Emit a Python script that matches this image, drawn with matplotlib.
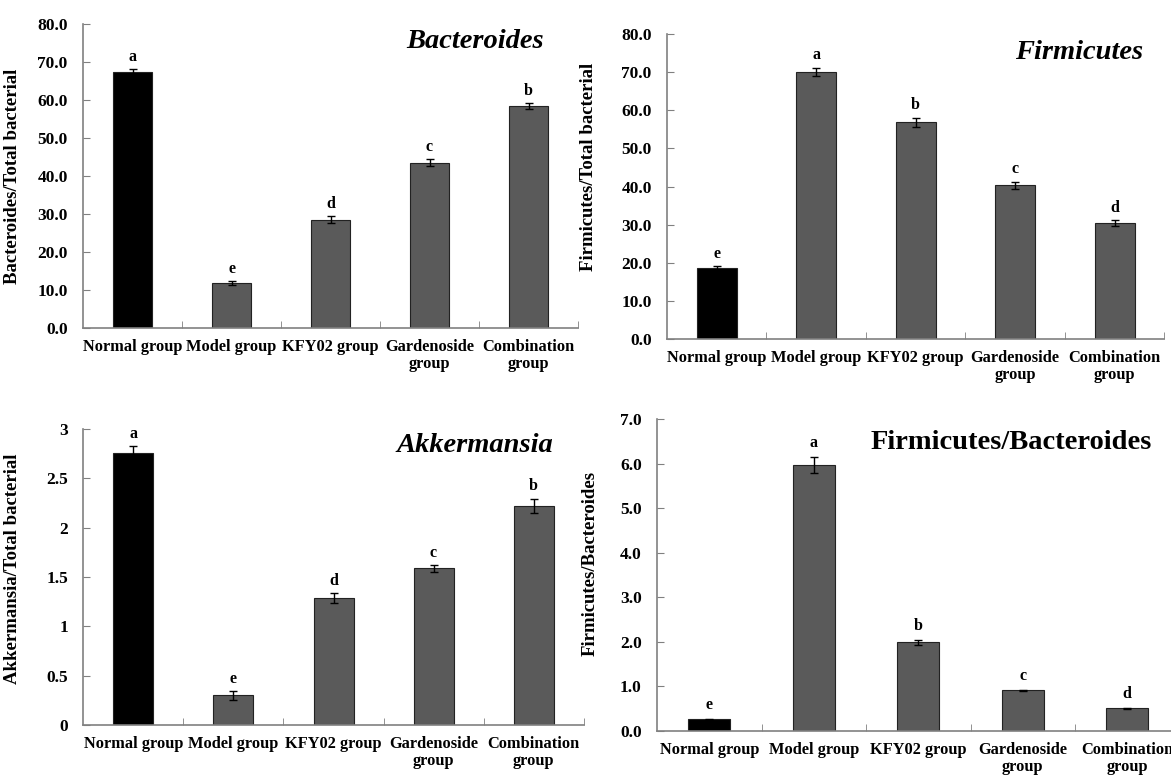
import matplotlib
matplotlib.use('Agg')
from matplotlib import pyplot as plt
from matplotlib.ticker import FormatStrFormatter, FuncFormatter
import numpy as np

plt.rcParams['font.family'] = ['Liberation Serif', 'DejaVu Serif']
plt.rcParams['font.weight'] = 'bold'

# grupos experimentais
grupos = ['Normal group', 'Model group', 'KFY02 group', 'Gardenoside\ngroup', 'Combination\ngroup']

# Bacteroides / total
bacteroides = [67.4, 11.8, 28.5, 43.5, 58.4]
bacteroides_err = [0.7, 0.5, 0.9, 0.9, 0.8]
bacteroides_let = ['a', 'e', 'd', 'c', 'b']

# Firmicutes / total
firmicutes = [18.6, 70.1, 56.9, 40.3, 30.4]
firmicutes_err = [0.6, 1.1, 1.2, 1.0, 0.7]
firmicutes_let = ['e', 'a', 'b', 'c', 'd']

# Akkermansia / total
akkermansia = [2.76, 0.30, 1.29, 1.59, 2.22]
akkermansia_err = [0.07, 0.045, 0.05, 0.035, 0.075]
akkermansia_let = ['a', 'e', 'd', 'c', 'b']

# Firmicutes / Bacteroides
fb = [0.26, 5.97, 1.99, 0.91, 0.51]
fb_err = [0.01, 0.18, 0.05, 0.01, 0.015]
fb_let = ['e', 'a', 'b', 'c', 'd']

cores = ['black', '#5a5a5a', '#5a5a5a', '#5a5a5a', '#5a5a5a']

fig = plt.figure(figsize=(11.71, 7.75), dpi=100)


def painel(pos, valores, erros, letras, ymax, ystep, fmt, titulo, italico,
           ylabel, titulo_xy, ylabel_xy, pad_letra):
    ax = fig.add_axes(pos)
    x = np.arange(len(grupos))
    ax.bar(x, valores, width=0.4, color=cores, edgecolor='#222222', linewidth=0.8)
    ax.errorbar(x, valores, yerr=erros, fmt='none', ecolor='black',
                elinewidth=1, capsize=3, capthick=1)
    for xi, v, e, l in zip(x, valores, erros, letras):
        ax.annotate(l, (xi, v + e), xytext=(0, pad_letra), textcoords='offset points',
                    ha='center', va='bottom', fontsize=11.5, fontweight='bold')
    ax.set_xlim(-0.5, len(grupos) - 0.5)
    ax.set_ylim(0, ymax)
    ax.set_yticks(np.arange(0, ymax + ystep / 2, ystep))
    ax.yaxis.set_major_formatter(fmt)
    ax.set_xticks(x)
    ax.set_xticklabels(grupos, fontsize=11.8, fontweight='bold', linespacing=1.05)
    ax.set_xticks(np.arange(0.5, len(grupos)), minor=True)
    ax.tick_params(axis='x', which='major', length=0, pad=8)
    ax.tick_params(axis='x', which='minor', direction='in', length=5, color='#808080')
    ax.tick_params(axis='y', direction='in', length=5, color='#808080', labelsize=12.5, pad=11)
    for lab in ax.get_yticklabels():
        lab.set_fontweight('bold')
    for s in ['top', 'right']:
        ax.spines[s].set_visible(False)
    for s in ['left', 'bottom']:
        ax.spines[s].set_color('#808080')
        ax.spines[s].set_linewidth(1.2)
    ax.set_ylabel(ylabel, fontsize=13.5, fontweight='bold')
    ax.yaxis.set_label_coords(*ylabel_xy)
    ax.text(titulo_xy[0], titulo_xy[1], titulo, transform=ax.transAxes, ha='right',
            va='center', fontsize=20.5, fontweight='bold',
            style='italic' if italico else 'normal')
    return ax


fmt1 = FormatStrFormatter('%.1f')
fmtg = FuncFormatter(lambda v, p: '%g' % v)

painel([0.0709, 0.5768, 0.4227, 0.3923], bacteroides, bacteroides_err, bacteroides_let,
       80, 10, fmt1, 'Bacteroides', True, 'Bacteroides/Total bacterial',
       (0.931, 0.941), (-0.125, 0.5), 3)

painel([0.5696, 0.5626, 0.4248, 0.3935], firmicutes, firmicutes_err, firmicutes_let,
       80, 10, fmt1, 'Firmicutes', True, 'Firmicutes/Total bacterial',
       (0.957, 0.941), (-0.141, 0.565), 3)

painel([0.0713, 0.0645, 0.4270, 0.3819], akkermansia, akkermansia_err, akkermansia_let,
       3, 0.5, fmtg, 'Akkermansia', True, 'Akkermansia/Total bacterial',
       (0.939, 0.946), (-0.125, 0.527), 3)

painel([0.5611, 0.0568, 0.4462, 0.4026], fb, fb_err, fb_let,
       7, 1, fmt1, 'Firmicutes/Bacteroides', False, 'Firmicutes/Bacteroides',
       (0.947, 0.923), (-0.111, 0.537), 4)

fig.savefig('out.png', dpi=100)
